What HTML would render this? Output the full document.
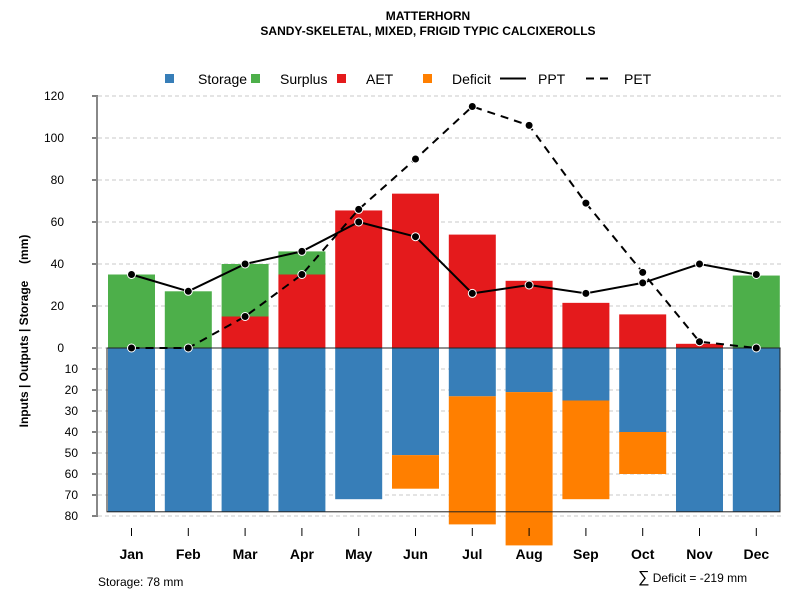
<!DOCTYPE html>
<html><head><meta charset="utf-8"><style>
body{margin:0;background:#fff;}
svg{display:block;font-family:"Liberation Sans",sans-serif;}
</style></head><body>
<svg id="chart" width="800" height="600" viewBox="0 0 800 600">
<text x="428" y="20" text-anchor="middle" font-size="12" font-weight="bold">MATTERHORN</text>
<text x="428" y="35" text-anchor="middle" font-size="12" font-weight="bold">SANDY-SKELETAL, MIXED, FRIGID TYPIC CALCIXEROLLS</text>
<g id="legend" font-size="14">
<g><rect x="165" y="74" width="9" height="9" fill="#377EB8"/><text x="198" y="84">Storage</text></g>
<g><rect x="251" y="74" width="9" height="9" fill="#4DAF4A"/><text x="280" y="84">Surplus</text></g>
<g><rect x="337" y="74" width="9" height="9" fill="#E41A1C"/><text x="366" y="84">AET</text></g>
<g><rect x="423" y="74" width="9" height="9" fill="#FF7F00"/><text x="452" y="84">Deficit</text></g>
<g><line x1="500" y1="78.5" x2="526" y2="78.5" stroke="#000" stroke-width="2"/><text x="538" y="84">PPT</text></g>
<g><line x1="586" y1="78.5" x2="610" y2="78.5" stroke="#000" stroke-width="2" stroke-dasharray="8,6"/><text x="624" y="84">PET</text></g>
</g>
<text transform="translate(28,331) rotate(-90)" text-anchor="middle" font-size="12" font-weight="bold" style="white-space:pre">Inputs | Outputs | Storage     (mm)</text>
<g id="grid"></g>
<g id="bars"></g>
<g id="axes"></g>
<g id="lines"></g>
<text x="98" y="586" font-size="12">Storage: 78 mm</text>
<text x="638" y="582" font-size="12"><tspan font-size="16">∑</tspan> Deficit = -219 mm</text>
</svg>
<script>
const months=["Jan","Feb","Mar","Apr","May","Jun","Jul","Aug","Sep","Oct","Nov","Dec"];
const storage=[78,78,78,78,72,51,23,21,25,40,78,78];
const deficit=[0,0,0,0,0,16,61,73,47,20,0,0];
const aet=[0,0,15,35,65.5,73.5,54,32,21.5,16,2,0];
const surplus=[35,27,25,11,0,0,0,0,0,0,0,34.5];
const ppt=[35,27,40,46,60,53,26,30,26,31,40,35];
const pet=[0,0,15,35,66,90,115,106,69,36,3,0];
const upTicks=[0,20,40,60,80,100,120];
const downTicks=[10,20,30,40,50,60,70,80];
const NS="http://www.w3.org/2000/svg";
const y0=348,k=2.1,x0=131.5,dx=56.8,bw=47;
const yUp=v=>y0-v*k, yDown=v=>y0+v*k, xM=i=>x0+i*dx;
function mk(tag,attrs,parent){const e=document.createElementNS(NS,tag);for(const a in attrs)e.setAttribute(a,attrs[a]);parent.appendChild(e);return e;}
const grid=document.getElementById('grid'),bars=document.getElementById('bars'),axes=document.getElementById('axes'),lines=document.getElementById('lines');
upTicks.forEach(t=>{
 const g=mk('line',{x1:98,x2:784,y1:yUp(t),y2:yUp(t),stroke:'#c8c8c8','stroke-dasharray':'4,3'},grid);
 
 
 const tk=mk('line',{x1:92,x2:98,y1:yUp(t),y2:yUp(t),stroke:'#000'},axes);
 
 
 const lb=mk('text',{x:64,y:yUp(t)+4,'text-anchor':'end','font-size':12},axes);
 lb.textContent=t;
 
 
});
downTicks.forEach(t=>{
 const g=mk('line',{x1:98,x2:784,y1:yDown(t),y2:yDown(t),stroke:'#c8c8c8','stroke-dasharray':'4,3'},grid);
 
 
 const tk=mk('line',{x1:92,x2:98,y1:yDown(t),y2:yDown(t),stroke:'#000'},axes);
 
 
 const lb=mk('text',{x:78,y:yDown(t)+4,'text-anchor':'end','font-size':12},axes);
 lb.textContent=t;
 
 
});
const ax=mk('line',{x1:97,x2:97,y1:yUp(120),y2:yDown(80),stroke:'#888','stroke-width':2},axes);


months.forEach((m,i)=>{
 const x=xM(i)-bw/2;
 const s=mk('rect',{x:x,y:y0,width:bw,height:storage[i]*k,fill:'#377EB8'},bars);
 
 
 if(deficit[i]>0){const d=mk('rect',{x:x,y:yDown(storage[i]),width:bw,height:deficit[i]*k,fill:'#FF7F00'},bars);
 
 }
 if(aet[i]>0){const a=mk('rect',{x:x,y:yUp(aet[i]),width:bw,height:aet[i]*k,fill:'#E41A1C'},bars);
 
 }
 if(surplus[i]>0){const u=mk('rect',{x:x,y:yUp(aet[i]+surplus[i]),width:bw,height:surplus[i]*k,fill:'#4DAF4A'},bars);
 
 }
 const tk=mk('line',{x1:xM(i),x2:xM(i),y1:528,y2:536,stroke:'#000'},axes);
 
 
 const lb=mk('text',{x:xM(i),y:559,'text-anchor':'middle','font-size':14,'font-weight':'bold'},axes);
 lb.textContent=m;
 
 
});
const box=mk('rect',{x:107,y:y0,width:673,height:78*k,fill:'none',stroke:'#222','stroke-width':1},bars);


function series(vals,name,dash){
 const p=mk('polyline',{points:vals.map((v,i)=>xM(i)+','+yUp(v)).join(' '),fill:'none',stroke:'#000','stroke-width':2,'stroke-dasharray':dash},lines);
 
 
 vals.forEach((v,i)=>{const c=mk('circle',{cx:xM(i),cy:yUp(v),r:4,fill:'#000',stroke:'#fff','stroke-width':1},lines);
 
 });
}
series(pet,'pet','8,6');
series(ppt,'ppt','none');
</script>
</body></html>
